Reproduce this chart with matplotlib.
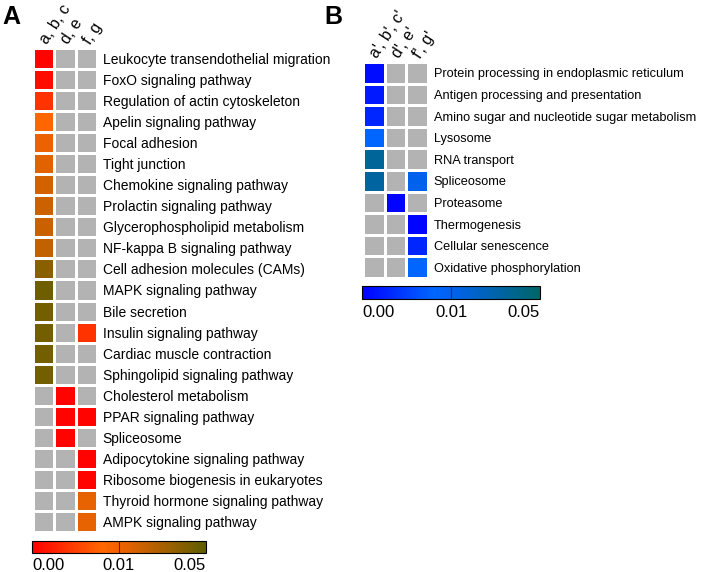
import numpy as np
import matplotlib
matplotlib.use("Agg")
import matplotlib.pyplot as plt
from matplotlib.colors import LinearSegmentedColormap, TwoSlopeNorm
from matplotlib.cm import ScalarMappable

plt.rcParams['font.family'] = ['Liberation Sans', 'DejaVu Sans']

# Panel A data (p-values, None = not significant)
pathways_a = ["Leukocyte transendothelial migration", "FoxO signaling pathway",
              "Regulation of actin cytoskeleton", "Apelin signaling pathway",
              "Focal adhesion", "Tight junction", "Chemokine signaling pathway",
              "Prolactin signaling pathway", "Glycerophospholipid metabolism",
              "NF-kappa B signaling pathway", "Cell adhesion molecules (CAMs)",
              "MAPK signaling pathway", "Bile secretion", "Insulin signaling pathway",
              "Cardiac muscle contraction", "Sphingolipid signaling pathway",
              "Cholesterol metabolism", "PPAR signaling pathway", "Spliceosome",
              "Adipocytokine signaling pathway", "Ribosome biogenesis in eukaryotes",
              "Thyroid hormone signaling pathway", "AMPK signaling pathway"]
cols_a = ["a, b, c", "d, e", "f, g"]
p_abc = [0.0003, 0.001, 0.004, 0.008, 0.0115, 0.014, 0.018, 0.02, 0.021, 0.023,
         0.038, 0.045, 0.044, 0.044, 0.044, 0.044,
         None, None, None, None, None, None, None]
p_de = [None] * 16 + [0.0003, 0.0003, 0.0003, None, None, None, None]
p_fg = [None] * 13 + [0.004, None, None, None, 0.0003, None, 0.0003, 0.0003, 0.013, 0.013]

# Panel B data
pathways_b = ["Protein processing in endoplasmic reticulum",
              "Antigen processing and presentation",
              "Amino sugar and nucleotide sugar metabolism", "Lysosome",
              "RNA transport", "Spliceosome", "Proteasome", "Thermogenesis",
              "Cellular senescence", "Oxidative phosphorylation"]
cols_b = ["a', b', c'", "d', e'", "f', g'"]
p_abc2 = [0.001, 0.002, 0.003, 0.008, 0.035, 0.033, None, None, None, None]
p_de2 = [None] * 6 + [0.0003, None, None, None]
p_fg2 = [None] * 5 + [0.011, None, 0.0003, 0.003, 0.008]

cbar_ticks = ["0.00", "0.01", "0.05"]

cmap_a = LinearSegmentedColormap.from_list(
    "ra", [(0, "#FF0000"), (0.4, "#FF6600"), (0.5, "#F26200"), (1, "#5E5E00")])
cmap_b = LinearSegmentedColormap.from_list(
    "bb", [(0, "#0000FF"), (0.4, "#0066FF"), (0.5, "#0062F0"), (1, "#006666")])
for c in (cmap_a, cmap_b):
    c.set_bad("#B3B3B3")
norm = TwoSlopeNorm(vmin=0, vcenter=0.01, vmax=0.05)

W, H = 709, 572
fig = plt.figure(figsize=(W / 100, H / 100), dpi=100)


def px_axes(x0, y0, x1, y1):
    return fig.add_axes([x0 / W, 1 - y1 / H, (x1 - x0) / W, (y1 - y0) / H])


def heatmap(ax, cols, rows, data, cmap, fs):
    arr = np.array([[np.nan if v is None else v for v in col] for col in data]).T
    m = np.ma.masked_invalid(arr)
    ax.pcolormesh(m, cmap=cmap, norm=norm, edgecolors="white", linewidth=0.8)
    ax.set_xlim(0, len(cols))
    ax.set_ylim(len(rows), 0)
    ax.set_yticks(np.arange(len(rows)) + 0.5)
    ax.set_yticklabels(rows, fontsize=fs)
    ax.yaxis.tick_right()
    ax.set_xticks(np.arange(len(cols)) + 0.5)
    ax.set_xticklabels(cols, fontsize=11.5, rotation=57, ha="left",
                       va="center", rotation_mode="anchor")
    ax.xaxis.tick_top()
    ax.tick_params(length=0, pad=4)
    for s in ax.spines.values():
        s.set_visible(False)


def colorbar(x0, y0, x1, y1, cmap, label_y):
    cax = px_axes(x0, y0, x1, y1)
    cb = fig.colorbar(ScalarMappable(norm=norm, cmap=cmap), cax=cax,
                      orientation="horizontal")
    cb.set_ticks([])
    cb.outline.set_linewidth(0.8)
    cax.axvline(0.01, color="#333333", lw=0.8)
    xs = [x0, (x0 + x1) / 2, x1]
    for x, s, ha in zip(xs, cbar_ticks, ["left", "center", "right"]):
        fig.text(x / W, 1 - label_y / H, s, ha=ha, va="baseline", fontsize=12)


ax_a = px_axes(33, 48, 97, 532)
heatmap(ax_a, cols_a, pathways_a, [p_abc, p_de, p_fg], cmap_a, 10)
colorbar(32, 541, 206, 553, cmap_a, 570)

ax_b = px_axes(363, 62, 428, 278)
heatmap(ax_b, cols_b, pathways_b, [p_abc2, p_de2, p_fg2], cmap_b, 9.2)
colorbar(362, 286, 540, 299, cmap_b, 317)

fig.text(2 / W, 1 - 17 / H, "A", fontsize=18, fontweight="bold", va="center")
fig.text(324 / W, 1 - 17 / H, "B", fontsize=18, fontweight="bold", va="center")

fig.savefig("out.png", dpi=100)
